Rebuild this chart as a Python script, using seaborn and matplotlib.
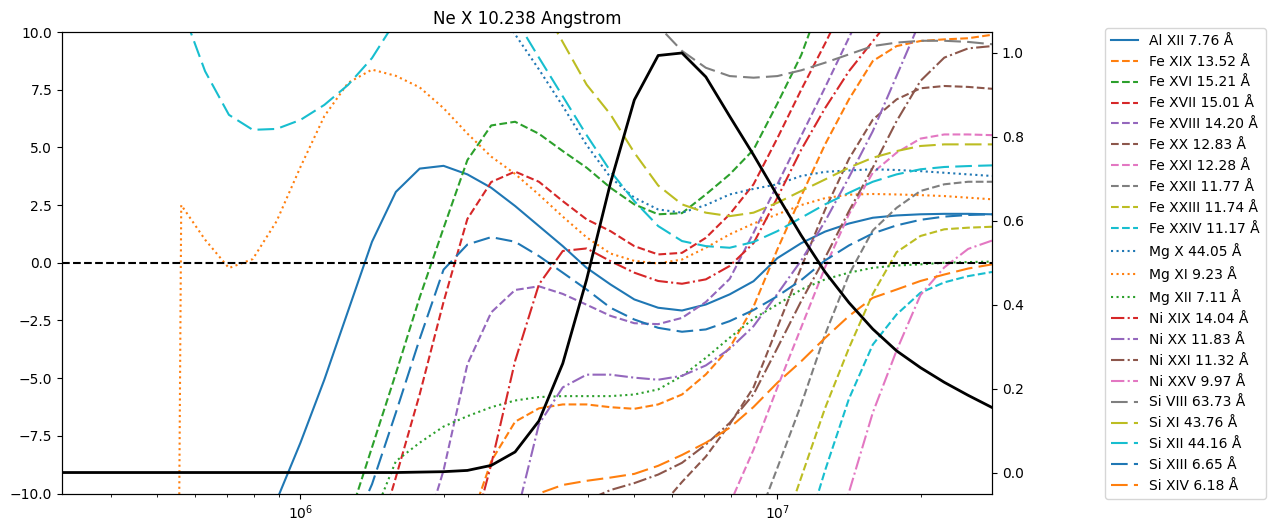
import matplotlib
matplotlib.use("Agg")
import matplotlib.pyplot as plt
import numpy as np
import pandas as pd
import seaborn as sns

nan = np.nan

# log10 temperature grid (0.05 dex)
log_t = [5.50, 5.55, 5.60, 5.65, 5.70, 5.75, 5.80, 5.85, 5.90, 5.95,
         6.00, 6.05, 6.10, 6.15, 6.20, 6.25, 6.30, 6.35, 6.40, 6.45,
         6.50, 6.55, 6.60, 6.65, 6.70, 6.75, 6.80, 6.85, 6.90, 6.95,
         7.00, 7.05, 7.10, 7.15, 7.20, 7.25, 7.30, 7.35, 7.40, 7.45]

# normalised contribution function of Ne X (right axis)
ne_x = [0.0, 0.0, 0.0, 0.0, 0.0, 0.0, 0.0, 0.0, 0.0, 0.0,
        0.0, 0.0, 0.0, 0.0, 0.0, 0.001, 0.002, 0.005, 0.017, 0.049,
        0.123, 0.26, 0.46, 0.69, 0.888, 0.994, 1.0, 0.943, 0.849, 0.757,
        0.66, 0.565, 0.478, 0.405, 0.342, 0.29, 0.25, 0.215, 0.184, 0.155]

# line ratios (left axis), nan = outside the plotted range
al_xii = [nan, nan, nan, nan, nan, nan, nan, nan, -13.0, -10.3,
          -7.8, -5.07, -2.08, 0.91, 3.07, 4.08, 4.2, 3.83, 3.25, 2.46,
          1.59, 0.72, -0.22, -0.94, -1.59, -1.95, -2.07, -1.81, -1.37, -0.8,
          0.2, 0.85, 1.35, 1.7, 1.95, 2.05, 2.1, 2.12, 2.12, 2.1]
fe_xix = [nan, nan, nan, nan, nan, nan, nan, nan, nan, nan,
          nan, nan, nan, nan, nan, nan, nan, -11.6, -8.6, -6.89,
          -6.31, -6.14, -6.14, -6.26, -6.33, -6.14, -5.71, -4.84, -3.68, -1.9,
          0.58, 2.89, 5.13, 7.08, 8.74, 9.39, 9.61, 9.68, 9.73, 9.88]
fe_xvi = [nan, nan, nan, nan, nan, nan, nan, nan, nan, nan,
          nan, nan, -11.2, -8.0, -4.8, -1.5, 1.5, 4.45, 5.95, 6.11,
          5.59, 4.84, 4.12, 3.25, 2.53, 2.1, 2.15, 2.96, 3.83, 4.9,
          6.9, 9.0, 11.8, nan, nan, nan, nan, nan, nan, nan]
fe_xvii = [nan, nan, nan, nan, nan, nan, nan, nan, nan, nan,
           nan, nan, nan, -12.8, -9.3, -5.7, -1.7, 1.9, 3.5, 3.95,
           3.51, 2.67, 1.88, 1.37, 0.72, 0.36, 0.43, 1.08, 2.1, 3.4,
           5.4, 7.5, 9.5, 11.6, nan, nan, nan, nan, nan, nan]
fe_xviii = [nan, nan, nan, nan, nan, nan, nan, nan, nan, nan,
            nan, nan, nan, nan, nan, -12.4, -9.0, -4.4, -2.15, -1.18,
            -1.02, -1.35, -1.82, -2.3, -2.62, -2.66, -2.39, -1.7, -0.7, 1.3,
            3.4, 5.5, 7.6, 9.75, 11.9, nan, nan, nan, nan, nan]
fe_xx = [nan, nan, nan, nan, nan, nan, nan, nan, nan, nan,
         nan, nan, nan, nan, nan, nan, nan, nan, nan, nan,
         nan, nan, nan, nan, nan, -10.7, -9.5, -8.4, -7.0, -5.4,
         -2.8, -0.2, 2.3, 4.5, 6.2, 7.08, 7.56, 7.66, 7.62, 7.54]
fe_xxi = [nan, nan, nan, nan, nan, nan, nan, nan, nan, nan,
          nan, nan, nan, nan, nan, nan, nan, nan, nan, nan,
          nan, nan, nan, nan, nan, nan, nan, nan, -10.46, -8.1,
          -5.4, -2.8, -0.2, 2.1, 3.9, 4.77, 5.38, 5.56, 5.56, 5.53]
fe_xxii = [nan, nan, nan, nan, nan, nan, nan, nan, nan, nan,
           nan, nan, nan, nan, nan, nan, nan, nan, nan, nan,
           nan, nan, nan, nan, nan, nan, nan, nan, nan, -11.6,
           -8.89, -6.14, -3.11, -0.51, 1.4, 2.38, 3.11, 3.4, 3.51, 3.51]
fe_xxiii = [nan, nan, nan, nan, nan, nan, nan, nan, nan, nan,
            nan, nan, nan, nan, nan, nan, nan, nan, nan, nan,
            nan, nan, nan, nan, nan, nan, nan, nan, nan, nan,
            -12.3, -9.3, -6.3, -3.7, -1.35, 0.46, 1.16, 1.45, 1.52, 1.56]
fe_xxiv = [nan, nan, nan, nan, nan, nan, nan, nan, nan, nan,
           nan, nan, nan, nan, nan, nan, nan, nan, nan, nan,
           nan, nan, nan, nan, nan, nan, nan, nan, nan, nan,
           nan, -12.4, -9.0, -5.9, -3.55, -2.24, -1.3, -0.85, -0.58, -0.4]
mg_x = [nan, nan, nan, nan, nan, nan, nan, nan, nan, nan,
        nan, nan, nan, nan, nan, nan, nan, nan, 11.45, 9.9,
        8.38, 6.79, 5.1, 3.7, 2.82, 2.31, 2.17, 2.5, 2.96, 3.2,
        3.4, 3.76, 3.94, 4.0, 4.05, 4.02, 3.97, 3.9, 3.83, 3.76]
mg_xi = [nan, nan, nan, nan, -150.0, 2.5, 1.0, -0.23, 0.16, 1.8,
         4.15, 6.35, 7.8, 8.37, 8.1, 7.6, 6.7, 5.6, 4.6, 3.85,
         2.95, 2.0, 1.1, 0.4, 0.08, -0.03, 0.14, 0.65, 1.23, 1.7,
         2.1, 2.5, 2.8, 2.95, 2.98, 2.96, 2.93, 2.89, 2.82, 2.75]
mg_xii = [nan, nan, nan, nan, nan, nan, nan, nan, nan, nan,
          nan, nan, nan, -11.15, -8.6, -7.8, -7.1, -6.65, -6.26, -5.97,
          -5.82, -5.78, -5.78, -5.78, -5.71, -5.49, -4.91, -4.12, -3.25, -2.42,
          -1.81, -1.16, -0.72, -0.43, -0.22, -0.12, -0.07, 0.0, 0.03, 0.05]
ni_xix = [nan, nan, nan, nan, nan, nan, nan, nan, nan, nan,
          nan, nan, nan, nan, nan, nan, nan, -12.6, -8.74, -4.26,
          -0.94, 0.51, 0.62, 0.07, -0.43, -0.79, -0.91, -0.72, -0.14, 0.85,
          2.82, 4.9, 6.7, 8.3, 9.6, 10.9, nan, nan, nan, nan]
ni_xx = [nan, nan, nan, nan, nan, nan, nan, nan, nan, nan,
         nan, nan, nan, nan, nan, nan, nan, nan, nan, -11.2,
         -7.0, -5.4, -4.85, -4.85, -4.98, -5.07, -4.9, -4.45, -3.73, -2.75,
         -1.35, 0.1, 1.8, 3.7, 5.7, 8.1, 10.5, nan, nan, nan]
ni_xxi = [nan, nan, nan, nan, nan, nan, nan, nan, nan, nan,
          nan, nan, nan, nan, nan, nan, nan, nan, nan, nan,
          nan, -12.0, -10.3, -9.85, -9.55, -9.18, -8.67, -7.88, -6.94, -5.7,
          -3.69, -1.66, 0.22, 2.24, 4.12, 6.14, 7.88, 8.89, 9.29, 9.39]
ni_xxv = [nan, nan, nan, nan, nan, nan, nan, nan, nan, nan,
          nan, nan, nan, nan, nan, nan, nan, nan, nan, nan,
          nan, nan, nan, nan, nan, nan, nan, nan, nan, nan,
          nan, nan, -13.5, -9.95, -6.5, -3.8, -1.4, -0.2, 0.6, 0.96]
si_viii = [nan, nan, nan, nan, nan, nan, nan, nan, nan, nan,
           nan, nan, nan, nan, nan, nan, nan, nan, nan, nan,
           nan, nan, nan, nan, 11.5, 10.27, 9.18, 8.45, 8.09, 8.02,
           8.09, 8.34, 8.67, 9.03, 9.39, 9.54, 9.62, 9.62, 9.57, 9.47]
si_xi = [nan, nan, nan, nan, nan, nan, nan, nan, nan, nan,
         nan, nan, nan, nan, nan, nan, nan, nan, nan, nan,
         11.4, 9.56, 7.72, 6.43, 4.77, 3.35, 2.53, 2.17, 2.02, 2.17,
         2.6, 3.11, 3.61, 4.12, 4.55, 4.84, 5.06, 5.13, 5.13, 5.13]
si_xii = [nan, nan, nan, nan, 12.8, 11.1, 8.3, 6.41, 5.76, 5.8,
          6.19, 6.84, 7.71, 8.87, 10.5, 11.8, 12.5, 12.6, 12.0, 10.6,
          8.89, 7.21, 5.53, 3.97, 2.67, 1.59, 0.94, 0.72, 0.65, 0.9,
          1.37, 1.95, 2.53, 3.03, 3.51, 3.83, 4.05, 4.15, 4.19, 4.22]
si_xiii = [nan, nan, nan, nan, nan, nan, nan, nan, nan, nan,
           nan, nan, -11.95, -9.6, -6.5, -3.3, -0.3, 0.79, 1.11, 0.91,
           0.29, -0.43, -1.16, -1.95, -2.46, -2.82, -2.99, -2.89, -2.53, -2.05,
           -1.45, -0.75, 0.1, 0.75, 1.27, 1.62, 1.86, 2.0, 2.07, 2.1]
si_xiv = [nan, nan, nan, nan, nan, nan, nan, nan, nan, nan,
          nan, nan, nan, nan, nan, nan, nan, nan, nan, -11.5,
          -10.0, -9.63, -9.45, -9.31, -9.15, -8.8, -8.33, -7.8, -7.15, -6.25,
          -5.2, -4.27, -3.26, -2.31, -1.52, -1.16, -0.79, -0.51, -0.25, -0.07]

long_dash = (0, (8, 3))
lines = [
    ("Al XII 7.76 Å", al_xii, "-"),
    ("Fe XIX 13.52 Å", fe_xix, "--"),
    ("Fe XVI 15.21 Å", fe_xvi, "--"),
    ("Fe XVII 15.01 Å", fe_xvii, "--"),
    ("Fe XVIII 14.20 Å", fe_xviii, "--"),
    ("Fe XX 12.83 Å", fe_xx, "--"),
    ("Fe XXI 12.28 Å", fe_xxi, "--"),
    ("Fe XXII 11.77 Å", fe_xxii, "--"),
    ("Fe XXIII 11.74 Å", fe_xxiii, "--"),
    ("Fe XXIV 11.17 Å", fe_xxiv, "--"),
    ("Mg X 44.05 Å", mg_x, ":"),
    ("Mg XI 9.23 Å", mg_xi, ":"),
    ("Mg XII 7.11 Å", mg_xii, ":"),
    ("Ni XIX 14.04 Å", ni_xix, "-."),
    ("Ni XX 11.83 Å", ni_xx, "-."),
    ("Ni XXI 11.32 Å", ni_xxi, "-."),
    ("Ni XXV 9.97 Å", ni_xxv, "-."),
    ("Si VIII 63.73 Å", si_viii, long_dash),
    ("Si XI 43.76 Å", si_xi, long_dash),
    ("Si XII 44.16 Å", si_xii, long_dash),
    ("Si XIII 6.65 Å", si_xiii, long_dash),
    ("Si XIV 6.18 Å", si_xiv, long_dash),
]


def main():
    temperature = 10 ** np.array(log_t)
    colors = sns.color_palette("tab10")

    fig = plt.figure(figsize=(12.74, 5.32), dpi=100)
    ax = fig.add_axes([62 / 1274, 38.5 / 532, 930 / 1274, 461.5 / 532])
    ax.set_xscale("log")

    for i, (label, values, style) in enumerate(lines):
        df = pd.DataFrame({"T": temperature, "ratio": values})
        sns.lineplot(data=df, x="T", y="ratio", ax=ax, color=colors[i % 10],
                     linestyle=style, linewidth=1.5, label=label, estimator=None)

    ax.axhline(0, color="black", linestyle="--", linewidth=1.5)
    ax.set_xlim(temperature[0], temperature[-1])
    ax.set_ylim(-10, 10)
    ax.set_xlabel("")
    ax.set_ylabel("")
    ax.set_title("Ne X 10.238 Angstrom")

    ax2 = ax.twinx()
    sns.lineplot(x=temperature, y=ne_x, ax=ax2, color="black", linewidth=2, estimator=None)
    ax2.set_ylim(-0.05, 1.05)
    ax2.set_ylabel("")
    ax2.set_xlim(temperature[0], temperature[-1])

    ax.legend(loc="upper left", bbox_to_anchor=(1105 / 1274, 504 / 532),
              bbox_transform=fig.transFigure, borderaxespad=0)

    fig.savefig("out.png", dpi=100)


if __name__ == '__main__':
    main()
